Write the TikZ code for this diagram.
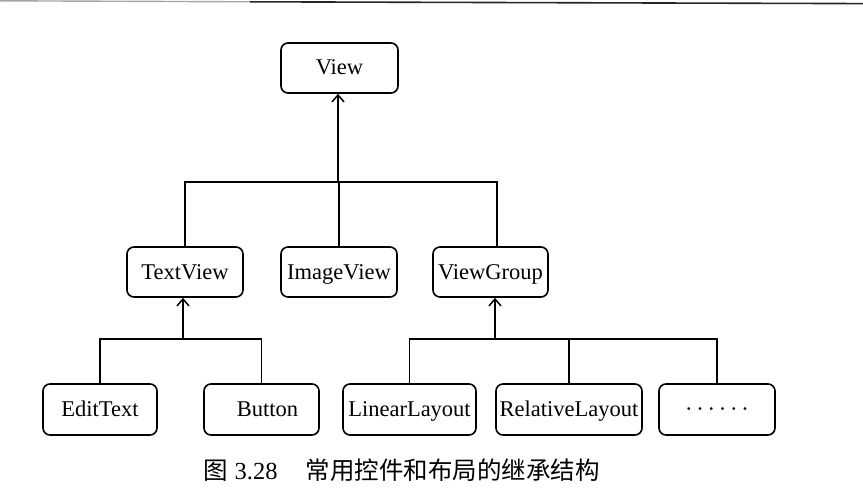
\documentclass[tikz,border=0pt]{standalone}
\usepackage{fontspec}
\setmainfont{Liberation Serif}
\newfontfamily\cjk{Noto Sans CJK SC}
\usetikzlibrary{arrows.meta,calc}
\begin{document}
\begin{tikzpicture}[x=1pt,y=-1pt,
  box/.style={draw,line width=1.6pt,rounded corners=7pt,minimum height=50pt,inner sep=0pt,
    text height=17pt,text depth=3pt,font=\fontsize{22.5}{24}\selectfont},
  conn/.style={line width=1.5pt},
  arr/.style={line width=1.5pt,-{Straight Barb[length=7pt,width=12pt,line width=1.5pt]}}]
\useasboundingbox (0,0) rectangle (863,503);
% top rule
\draw[line width=1.4pt,black!35] (0,0.8) -- (250,1.8);
\draw[line width=1.6pt,black!85] (250,1.8) -- (863,3.6);
% nodes
\node[box,minimum width=117pt] (View) at (339.5,68) {View};
\node[box,minimum width=116pt] (TextView) at (185,272) {TextView};
\node[box,minimum width=116pt] (ImageView) at (339,272) {ImageView};
\node[box,minimum width=115pt] (ViewGroup) at (490.5,272) {ViewGroup};
\node[box,minimum width=114pt,minimum height=51pt] (EditText) at (100,409.5) {EditText};
\node[box,minimum width=115pt,minimum height=51pt] (Button) at (261.5,409.5) {\hspace*{12pt}Button};
\node[box,minimum width=133pt,minimum height=51pt] (LinearLayout) at (409.5,409.5) {LinearLayout};
\node[box,minimum width=146pt,minimum height=51pt] (RelativeLayout) at (569,409.5) {RelativeLayout};
\node[box,minimum width=116pt,minimum height=51pt] (dots) at (717,409.5) {\textperiodcentered\,\textperiodcentered\,\textperiodcentered\,\textperiodcentered\,\textperiodcentered\,\textperiodcentered};
% level 1 connectors
\coordinate (b1) at (338,182);
\coordinate (vgc) at ($(ViewGroup.north)+(6.5,0)$);
\draw[conn] (TextView.north) |- (b1) -| (vgc);
\draw[conn] (ImageView.north) -- (ImageView.north |- b1);
\draw[arr] (b1) -- (b1 |- View.south);
% level 2 left
\coordinate (b2) at (183,339);
\draw[conn] (EditText.north) |- (b2) -| (Button.north);
\draw[arr] (b2) -- (b2 |- TextView.south);
% level 2 right
\coordinate (b3) at (495,339);
\draw[conn] (LinearLayout.north) |- (b3) -| (dots.north);
\draw[conn] (RelativeLayout.north) -- (RelativeLayout.north |- b3);
\draw[arr] (b3) -- (b3 |- ViewGroup.south);
% caption
\node[anchor=west,inner sep=0pt,font=\fontsize{24.5}{26}\selectfont] (cap) at (203,470) {{\cjk 图}\hspace{7pt}3.28\hspace{28pt}{\cjk 常用控件和布局的继承结构}};
\end{tikzpicture}
\end{document}
